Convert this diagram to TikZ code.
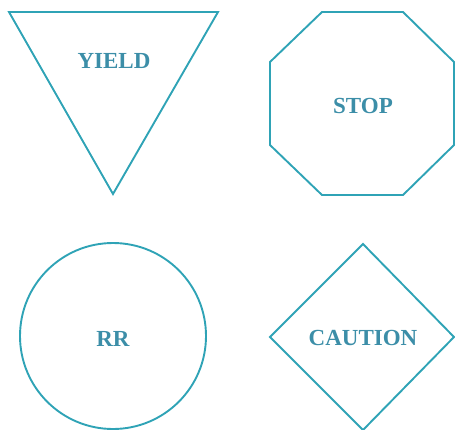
\documentclass[tikz,border=0pt]{standalone}
\usepackage{fontspec}
\setmainfont{Liberation Serif}
\usepackage{xcolor}
\definecolor{SignLine}{HTML}{2FA3B6}
\definecolor{SignText}{HTML}{3C8EA8}
\tikzset{
  signline/.style={draw=SignLine,line width=1.9pt,line join=miter},
  signtext/.style={text=SignText,font=\fontsize{23}{26}\selectfont\bfseries,inner sep=0pt}
}

\begin{document}
\begin{tikzpicture}[x=1pt,y=-1pt]
\useasboundingbox (0,0) rectangle (455,429);
% Yield sign
\draw[signline] (9,12) -- (218,12) -- (113,194) -- cycle;
\node[signtext] (yield) at (114,61) {YIELD};

% Stop sign
\draw[signline] (322,12) -- (403,12) -- (454,62) -- (454,145) -- (403,195)
  -- (322,195) -- (270,145) -- (270,62) -- cycle;
\node[signtext] (stop) at (363,106) {STOP};

% Railroad sign
\draw[signline] (113,336) circle (93);
\node[signtext] (rr) at (113,339) {RR};

% Caution sign
\draw[signline] (363,244) -- (454,337) -- (363,430) -- (270,337) -- cycle;
\node[signtext] (caution) at (363,338) {CAUTION};
\end{tikzpicture}
\end{document}
